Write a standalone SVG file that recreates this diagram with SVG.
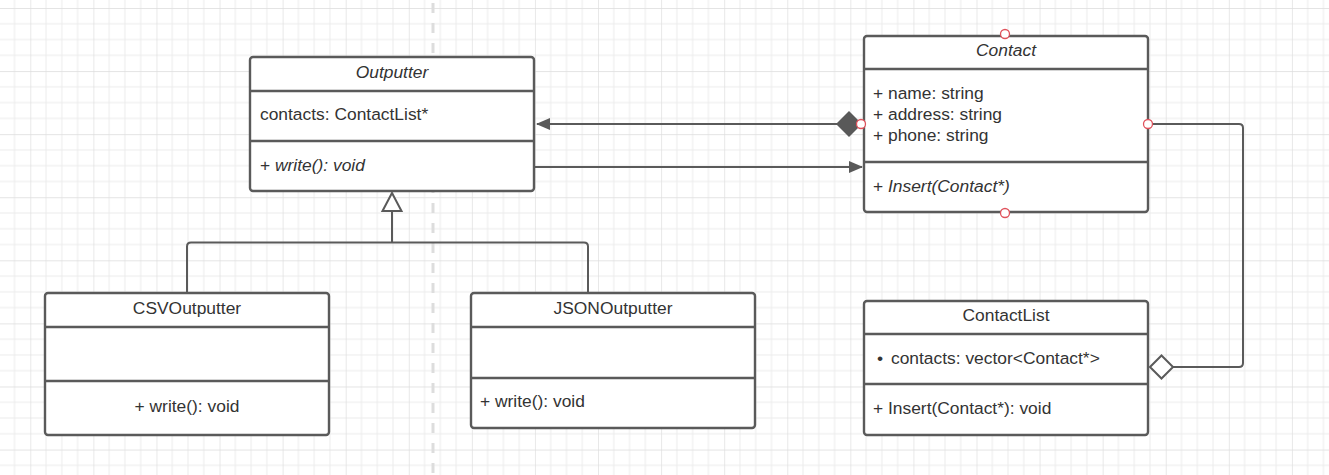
<svg xmlns="http://www.w3.org/2000/svg" width="1329" height="475" viewBox="0 0 1329 475">
  <defs>
    <pattern id="grid" patternUnits="userSpaceOnUse" x="30.3" y="8" width="63.08" height="63.08">
      <path d="M15.77 0V63.08M31.54 0V63.08M47.31 0V63.08M0 15.77H63.08M0 31.54H63.08M0 47.31H63.08" stroke="#ececec" stroke-width="1" fill="none"/>
      <path d="M0 0V63.08M0 0H63.08" stroke="#dcdcdc" stroke-width="1.3" fill="none"/>
    </pattern>
    <marker id="arrowFilled" viewBox="0 0 14 12" refX="13" refY="6" markerWidth="14" markerHeight="12" markerUnits="userSpaceOnUse" orient="auto">
      <path d="M0 0L14 6L0 12Z" fill="#595959"/>
    </marker>
  </defs>
  <style>
    .box { fill: #ffffff; stroke: #5a5a5a; stroke-width: 2.4; }
    .sep { stroke: #5a5a5a; stroke-width: 2.4; fill: none; }
    .wire { stroke: #5a5a5a; stroke-width: 2; fill: none; }
    .port { fill: #ffffff; stroke: #e0525c; stroke-width: 1.3; }
    text { font-family: "Liberation Sans", Arial, sans-serif; font-size: 17.4px; fill: #333333; }
    .c { text-anchor: middle; }
    .i { font-style: italic; }
  </style>

  <rect width="1329" height="475" fill="#ffffff"/>
  <rect width="1329" height="475" fill="url(#grid)"/>
  <line x1="433" y1="3" x2="433" y2="475" stroke="#dddddd" stroke-width="3" stroke-dasharray="10 10"/>

  <g id="connectors">
    <!-- composition: Contact to Outputter -->
    <path class="wire" d="M839 124H537" marker-end="url(#arrowFilled)"/>
    <path d="M836 124L849 111L862 124L849 137Z" fill="#595959"/>
    <!-- association: Outputter to Contact -->
    <path class="wire" d="M535 167H862" marker-end="url(#arrowFilled)"/>
    <!-- aggregation: Contact to ContactList -->
    <path class="wire" d="M1148 124H1239Q1243 124 1243 128V363Q1243 367 1239 367H1173"/>
    <path d="M1150 367L1161.5 355.5L1173 367L1161.5 378.5Z" fill="#ffffff" stroke="#5a5a5a" stroke-width="2"/>
    <!-- generalization: subclasses to Outputter -->
    <path class="wire" d="M187 293V246.5Q187 242.5 191 242.5H584Q588 242.5 588 246.5V293"/>
    <path class="wire" d="M392 211V242.5"/>
    <path d="M392 193L401.5 211H382.5Z" fill="#ffffff" stroke="#5a5a5a" stroke-width="2"/>
  </g>

  <g id="outputter">
    <rect class="box" x="250" y="57" width="284" height="134" rx="3"/>
    <path class="sep" d="M250 91H534M250 141H534"/>
    <text class="c i" x="392" y="78">Outputter</text>
    <text x="260" y="120">contacts: ContactList*</text>
    <text x="260" y="171">+ <tspan class="i">write(): void</tspan></text>
  </g>

  <g id="contact">
    <rect class="box" x="864" y="36" width="284" height="176" rx="3"/>
    <path class="sep" d="M864 69H1148M864 162H1148"/>
    <text class="c i" x="1006" y="56">Contact</text>
    <text x="873" y="99">+ name: string</text>
    <text x="873" y="120">+ address: string</text>
    <text x="873" y="141">+ phone: string</text>
    <text x="873" y="192">+ <tspan class="i">Insert(Contact*)</tspan></text>
    <circle class="port" cx="1005" cy="34" r="4.5"/>
    <circle class="port" cx="861" cy="124" r="4.5"/>
    <circle class="port" cx="1148" cy="124" r="4.5"/>
    <circle class="port" cx="1005" cy="213" r="4.5"/>
  </g>

  <g id="contactlist">
    <rect class="box" x="864" y="301" width="284" height="134" rx="3"/>
    <path class="sep" d="M864 334H1148M864 384H1148"/>
    <text class="c" x="1006" y="321">ContactList</text>
    <text x="877" y="364">•<tspan x="891">contacts: vector&lt;Contact*&gt;</tspan></text>
    <text x="873" y="414">+ Insert(Contact*): void</text>
  </g>

  <g id="csvoutputter">
    <rect class="box" x="45" y="293" width="284" height="142" rx="3"/>
    <path class="sep" d="M45 327H329M45 381H329"/>
    <text class="c" x="187" y="314">CSVOutputter</text>
    <text class="c" x="187" y="412">+ write(): void</text>
  </g>

  <g id="jsonoutputter">
    <rect class="box" x="471" y="293" width="284" height="135" rx="3"/>
    <path class="sep" d="M471 327H755M471 378H755"/>
    <text class="c" x="613" y="314">JSONOutputter</text>
    <text x="480" y="407">+ write(): void</text>
  </g>
</svg>
